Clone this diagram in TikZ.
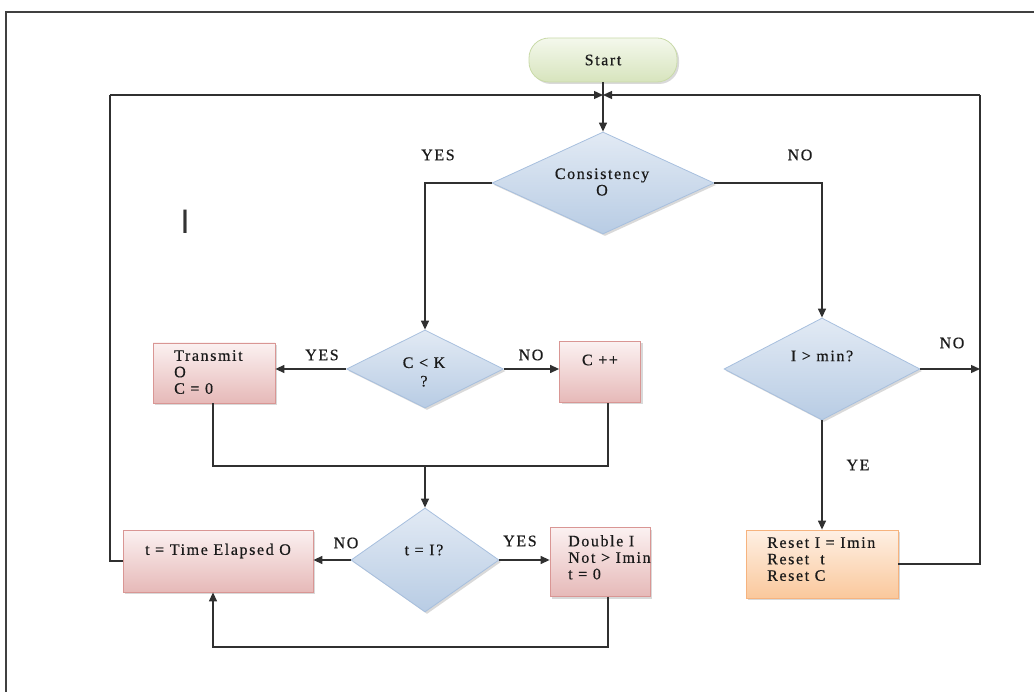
\documentclass[tikz,border=0pt]{standalone}
\usepackage{fontspec}
\setmainfont{Liberation Serif}[LetterSpace=10,FakeBold=0.5]
\newfontfamily\barfont{Liberation Sans}
\usetikzlibrary{shapes.geometric,arrows.meta,shadows}
\definecolor{diaT}{HTML}{E2EAF4}
\definecolor{diaBot}{HTML}{B8CCE4}
\definecolor{diaB}{HTML}{A7BFDE}
\definecolor{pinkT}{HTML}{FBF1F1}
\definecolor{pinkBot}{HTML}{E6B9B8}
\definecolor{pinkB}{HTML}{D99694}
\definecolor{orT}{HTML}{FEF0E4}
\definecolor{orBot}{HTML}{FAC89C}
\definecolor{orB}{HTML}{F6B37E}
\definecolor{grT}{HTML}{F4F8EC}
\definecolor{grBot}{HTML}{D7E4BD}
\definecolor{grB}{HTML}{C9DAA8}
\definecolor{ink}{HTML}{1A1A1A}
\definecolor{lncol}{HTML}{303030}
\begin{document}
\begin{tikzpicture}[x=1pt,y=-1pt,
  txt/.style={font=\fontsize{16}{16.5}\selectfont, inner sep=0pt, text=ink},
  shd/.style={drop shadow={shadow xshift=2pt,shadow yshift=-2pt,opacity=0.25,fill=black!60}},
  dia/.style={diamond, draw=diaB, line width=0.8pt, top color=diaT, bottom color=diaBot, inner sep=0pt, shd},
  pbox/.style={rectangle, draw=pinkB, line width=0.8pt, top color=pinkT, bottom color=pinkBot, inner sep=0pt, shd},
  obox/.style={rectangle, draw=orB, line width=0.8pt, top color=orT, bottom color=orBot, inner sep=0pt, shd},
  pill/.style={rectangle, rounded corners=20pt, draw=grB, line width=0.8pt, top color=grT, bottom color=grBot, inner sep=0pt, shd},
  ln/.style={draw=lncol, line width=1.3pt},
  arr/.style={ln, -{Triangle[length=9pt,width=8pt]}},
  lab/.style={txt}
]
\useasboundingbox (0,0) rectangle (1034,692);
% frame
\draw[draw=black!75, line width=2pt] (6,692) -- (6,12) -- (1034,12);

% shapes
\node[pill, minimum width=148pt, minimum height=44pt] (start) at (603,60) {};
\node[dia, minimum width=222pt, minimum height=102pt] (cons) at (603,183) {};
\node[dia, minimum width=157pt, minimum height=78pt] (ck) at (425,369) {};
\node[dia, minimum width=196pt, minimum height=102pt] (imin) at (822,369) {};
\node[dia, minimum width=148pt, minimum height=104pt] (ti) at (425,560) {};
\node[pbox, minimum width=122pt, minimum height=60pt] (trans) at (214,373) {};
\node[pbox, minimum width=81pt, minimum height=61pt] (cpp) at (600,372) {};
\node[pbox, minimum width=190pt, minimum height=62pt] (te) at (218,561) {};
\node[pbox, minimum width=100pt, minimum height=69pt] (dbl) at (600,562) {};
\node[obox, minimum width=152pt, minimum height=68pt] (reset) at (822,564) {};

% texts
\node[txt] (tstart) at (603,60) {Start};
\node[txt, align=center] (tcons) at (602,182) {Consistency\\O};
\node[txt, align=center] (tck) at (424,372) {C < K\\[2pt]?};
\node[txt] (timin) at (822,356) {I > min?};
\node[txt] (tti) at (424,550) {t = I?};
\node[txt, align=left, anchor=north west] (ttrans) at (174,350) {Transmit\\O\\C = 0};
\node[txt] (tcpp) at (600,360) {C ++};
\node[txt] (tte) at (218,551) {t = Time Elapsed O};
\node[txt, align=left, anchor=north west] (tdbl) at (568,535) {Double I\\Not > Imin\\t = 0};
\node[txt, align=left, anchor=north west] (treset) at (767,537) {Reset I = Imin\\Reset~~t\\Reset C};
\node[inner sep=0pt, font=\barfont\fontsize{34}{34}\selectfont, text=black!80] (bar) at (185,222) {I};

% labels
\node[lab] (l1) at (438,155) {YES};
\node[lab] (l2) at (800,155) {NO};
\node[lab] (l3) at (322,355) {YES};
\node[lab] (l4) at (531,355) {NO};
\node[lab] (l5) at (346,543) {NO};
\node[lab] (l6) at (520,541) {YES};
\node[lab] (l7) at (952,343) {NO};
\node[lab] (l8) at (858,465) {YE};

% coordinates
\coordinate (jn) at (603,95);
\coordinate (tl) at (110,95);
\coordinate (tr) at (980,95);
\coordinate (rn) at (980,369);
\coordinate (m1) at (213,466);
\coordinate (m2) at (608,466);
\coordinate (m) at (425,466);
\coordinate (b1) at (608,647);
\coordinate (b2) at (213,647);

% connectors
\draw[arr] (start.south) -- (cons.north);
\draw[arr] (tl) -- (jn);
\draw[arr] (tr) -- (jn);
\draw[arr] (cons.west) -| (ck.north);
\draw[arr] (cons.east) -| (imin.north);
\draw[arr] (ck.west) -- (ck.west -| trans.east);
\draw[arr] (ck.east) -- (ck.east -| cpp.west);
\draw[ln] (trans.south -| m1) -- (m1) -- (m2) -- (cpp.south -| m2);
\draw[arr] (m) -- (ti.north);
\draw[arr] (ti.west) -- (ti.west -| te.east);
\draw[arr] (ti.east) -- (ti.east -| dbl.west);
\draw[arr] (dbl.south -| b1) -- (b1) -- (b2) -- (te.south -| b2);
\draw[ln] (te.west) -| (tl);
\draw[arr] (imin.east) -- (rn);
\draw[arr] (imin.south) -- (reset.north);
\draw[ln] (reset.east) -| (tr);
\end{tikzpicture}
\end{document}
